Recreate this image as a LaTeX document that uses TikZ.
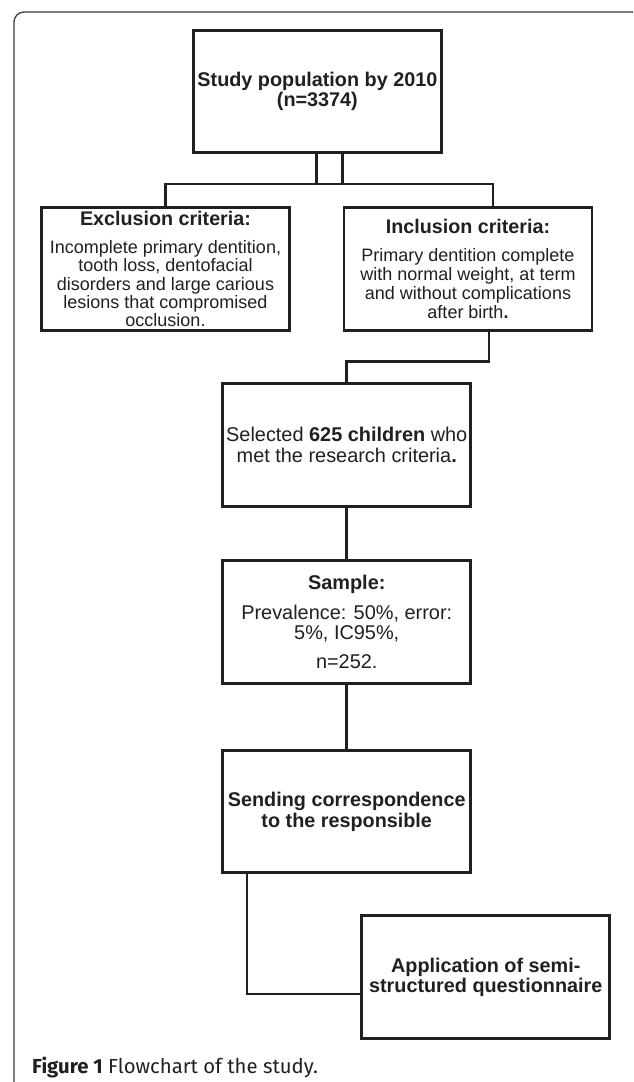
\documentclass[tikz,border=0pt]{standalone}
\usepackage{fontspec}
\setmainfont{Liberation Sans}
\newfontfamily\capfont{Fira Sans}
\definecolor{ink}{HTML}{231F20}
\definecolor{framec}{HTML}{3C3C3C}
\tikzset{
  box/.style={draw=ink, line width=2.8pt, rectangle, inner sep=0pt,
    minimum width=248pt, minimum height=122.5pt, align=center, text=ink},
  conn/.style={draw=ink, line width=2.8pt, line join=miter},
  framebox/.style={draw=framec, line width=1.3pt, rounded corners=10pt},
  bodyL/.style={font=\fontsize{19.9}{21}\selectfont},
  boldL/.style={font=\fontsize{19.8}{20}\selectfont\bfseries}
}
\begin{document}
\begin{tikzpicture}[x=1pt,y=-1pt]
\useasboundingbox (0,0) rectangle (633,1082);
\clip (0,0) rectangle (633,1082);
\fill[white] (0,0) rectangle (633,1082);
\draw[framebox] (14,12) rectangle (642,1092);

\node[box, boldL] (top) at (317.4,91.5) {Study population by 2010\\(n=3374)};

\node[box, font=\fontsize{18}{18.3}\selectfont] (excl) at (165.5,269)
  {{\fontsize{19.7}{20}\selectfont\bfseries Exclusion criteria:}\\[10pt]
   Incomplete primary dentition,\\tooth loss, dentofacial\\disorders and large carious\\lesions that compromised\\occlusion.};

\node[box, font=\fontsize{18}{19}\selectfont] (incl) at (468,269)
  {{\fontsize{19.7}{20}\selectfont\bfseries Inclusion criteria:}\\[9pt]
   Primary dentition complete\\with normal weight, at term\\and without complications\\after birth\textbf{.}};

\node[box, bodyL] (sel) at (346.75,445)
  {Selected \textbf{625 children} who\\met the research criteria\textbf{.}};

\node[box, font=\fontsize{19.9}{20}\selectfont] (samp) at (346.75,622)
  {{\bfseries Sample:}\\[10pt]Prevalence: 50\%, error:\\5\%, IC95\%,\\[9pt]n=252.};

\node[box, font=\fontsize{19.8}{21}\selectfont\bfseries] (send) at (346.75,811.5)
  {Sending correspondence\\to the responsible};

\node[box, boldL] (app) at (485.75,977)
  {Application of semi-\\structured questionnaire};

% connectors
\coordinate (j1) at (316.7,184);
\coordinate (j2) at (342.7,184);
\coordinate (hl) at (165.5,184);
\coordinate (hr) at (493,184);
\coordinate (b1) at (489,361.7);
\coordinate (c1) at (247,994);

\draw[conn] (j1 |- top.south) -- (j1);
\draw[conn] (j2 |- top.south) -- (j2);
\draw[conn] (excl.north) -- (hl) -- (hr) -- (hr |- incl.north);
\draw[conn] (b1 |- incl.south) -- (b1) -- (b1 -| sel.north) -- (sel.north);
\draw[conn] (sel.south) -- (samp.north);
\draw[conn] (samp.south) -- (send.north);
\draw[conn] (c1 |- send.south) -- (c1) -- (c1 -| app.west);

\node[anchor=base west, inner sep=0pt, text=ink] (cap) at (32,1073)
  {\capfont\fontsize{20.3}{21}\selectfont\textbf{Figure 1} Flowchart of the study.};
\end{tikzpicture}
\end{document}
